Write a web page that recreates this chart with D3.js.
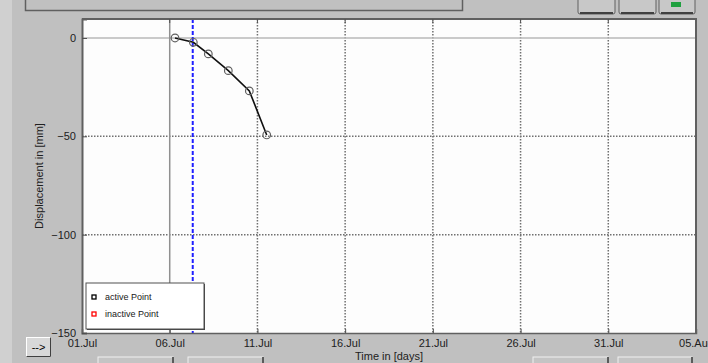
<!DOCTYPE html>
<html>
<head>
<meta charset="utf-8">
<script src="https://cdn.jsdelivr.net/npm/d3@7"></script>
<style>
  body { margin: 0; background: #c0c0c0; }
  svg { display: block; font-family: "Liberation Sans", Arial, sans-serif; }
</style>
</head>
<body>
<div id="chart"></div>
<script>
// measured points (time, displacement in mm)
const pointTimes = ["2005-07-06T07:15", "2005-07-07T08:18", "2005-07-08T04:50", "2005-07-09T08:11", "2005-07-10T12:55", "2005-07-11T12:43"];
const pointValues = [0, -2.2, -8.1, -16.6, -26.9, -49.3];
const xTicks = ["2005-07-01", "2005-07-06", "2005-07-11", "2005-07-16", "2005-07-21", "2005-07-26", "2005-07-31", "2005-08-05"];
const yTicks = [0, -50, -100, -150];
const startTime = "2005-07-06T00:00";   // solid gray reference line
const currentTime = "2005-07-07T07:30"; // blue dashed marker
const legendItems = ["active Point", "inactive Point"];
const legendColors = ["#000000", "#ff0000"];

const W = 708, H = 363;
const m = {left: 82, right: 12, top: 19, bottom: 30};
const parse = d3.isoParse;

const svg = d3.select("#chart").append("svg").attr("width", W).attr("height", H);

// window chrome
svg.append("rect").attr("width", W).attr("height", H).attr("fill", "#c0c0c0");
svg.append("rect").attr("x", 0).attr("y", 0).attr("width", 12).attr("height", H).attr("fill", "#d0d0d0");
svg.append("path").attr("d", "M25.5,0V10.5H462.5V0").attr("fill", "none").attr("stroke", "#606060").attr("stroke-width", 1.5);
[[578, 615], [619, 656], [659, 695]].forEach(function(b){
    svg.append("rect").attr("x", b[0]).attr("y", -3).attr("width", b[1] - b[0]).attr("height", 17)
        .attr("fill", "#c8c8c8").attr("stroke", "#606060").attr("rx", 2);
    svg.append("line").attr("x1", b[0] + 2).attr("x2", b[1] - 2).attr("y1", 13).attr("y2", 13)
        .attr("stroke", "#404040").attr("stroke-width", 2);
});
svg.append("rect").attr("x", 671).attr("y", 2).attr("width", 10).attr("height", 5).attr("fill", "#20a040");

// bottom buttons
[[98, 173], [188, 263], [533, 608], [618, 692]].forEach(function(b){
    svg.append("rect").attr("x", b[0]).attr("y", 357).attr("width", b[1] - b[0]).attr("height", 10)
        .attr("fill", "#c4c4c4").attr("stroke", "#f0f0f0");
    svg.append("line").attr("x1", b[1]).attr("x2", b[1]).attr("y1", 357).attr("y2", 363).attr("stroke", "#303030").attr("stroke-width", 1.5);
});
svg.append("rect").attr("x", 26.5).attr("y", 337.5).attr("width", 24).attr("height", 19)
    .attr("fill", "#d8d8d8").attr("stroke", "#ffffff");
svg.append("path").attr("d", "M50.5,337.5V356.5H26.5").attr("fill", "none").attr("stroke", "#404040");
svg.append("text").attr("x", 38.5).attr("y", 351).attr("text-anchor", "middle")
    .attr("font-size", 11).attr("fill", "#000").text("-->");

const x = d3.scaleTime()
    .domain([parse("2005-07-01"), parse("2005-08-05")])
    .range([m.left, W - m.right]);
const y = d3.scaleLinear()
    .domain([-150, 9.65])
    .range([H - m.bottom, m.top]);

// plot area
svg.append("rect").attr("x", m.left).attr("y", m.top)
    .attr("width", W - m.right - m.left).attr("height", H - m.bottom - m.top)
    .attr("fill", "#fdfdfd");

const grid = svg.append("g");
grid.selectAll(".vg").data(xTicks.slice(1, -1).filter(function(d){ return d !== "2005-07-06"; }))
  .enter().append("line")
    .attr("x1", function(d){ return x(parse(d)); }).attr("x2", function(d){ return x(parse(d)); })
    .attr("y1", m.top).attr("y2", H - m.bottom)
    .attr("stroke", "#707070").attr("stroke-width", 1.5).attr("stroke-dasharray", "1.5,1.5");
grid.selectAll(".hg").data(yTicks.filter(function(d){ return d < 0 && d > -150; }))
  .enter().append("line")
    .attr("x1", m.left).attr("x2", W - m.right)
    .attr("y1", function(d){ return y(d); }).attr("y2", function(d){ return y(d); })
    .attr("stroke", "#707070").attr("stroke-width", 1.5).attr("stroke-dasharray", "1.5,1.5");
grid.append("line").attr("x1", m.left).attr("x2", W - m.right)
    .attr("y1", y(0)).attr("y2", y(0)).attr("stroke", "#b8b8b8").attr("stroke-width", 1.5);
grid.append("line").attr("x1", x(parse(startTime))).attr("x2", x(parse(startTime)))
    .attr("y1", m.top).attr("y2", H - m.bottom).attr("stroke", "#909090").attr("stroke-width", 1.5);
grid.append("line").attr("x1", x(parse(currentTime))).attr("x2", x(parse(currentTime)))
    .attr("y1", m.top).attr("y2", H - m.bottom)
    .attr("stroke", "#2020ff").attr("stroke-width", 2).attr("stroke-dasharray", "4,2");

// axes
const fmt = d3.timeFormat("%d.%b");
const xAxis = svg.append("g").attr("transform", "translate(0," + (H - m.bottom) + ")")
    .call(d3.axisBottom(x).tickValues(xTicks.map(parse)).tickFormat(fmt).tickSize(-4).tickPadding(6));
xAxis.select(".domain").attr("stroke", "#606060").attr("stroke-width", 1.5);
xAxis.selectAll(".tick line").attr("stroke", "#505050");
xAxis.selectAll("text").attr("font-size", 11).attr("fill", "#202020").attr("font-family", "Liberation Sans, Arial");

const yAxis = svg.append("g").attr("transform", "translate(" + m.left + ",0)")
    .call(d3.axisLeft(y).tickValues(yTicks).tickSize(-5).tickPadding(6));
yAxis.select(".domain").attr("stroke", "#606060").attr("stroke-width", 2);
yAxis.selectAll(".tick line").attr("stroke", "#505050");
yAxis.selectAll("text").attr("font-size", 11).attr("fill", "#202020").attr("font-family", "Liberation Sans, Arial");

// top and right frame
svg.append("path")
    .attr("d", "M" + m.left + "," + m.top + "H" + (W - m.right) + "V" + (H - m.bottom))
    .attr("fill", "none").attr("stroke", "#606060").attr("stroke-width", 2);
svg.append("g").selectAll("line").data(xTicks.slice(1, -1)).enter().append("line")
    .attr("x1", function(d){ return x(parse(d)); }).attr("x2", function(d){ return x(parse(d)); })
    .attr("y1", m.top).attr("y2", m.top + 4).attr("stroke", "#505050");

// axis titles
svg.append("text").attr("x", (m.left + W - m.right) / 2).attr("y", H - 3)
    .attr("text-anchor", "middle").attr("font-size", 11).attr("fill", "#202020").text("Time in [days]");
svg.append("text").attr("transform", "translate(43," + (m.top + H - m.bottom) / 2 + ") rotate(-90)")
    .attr("text-anchor", "middle").attr("font-size", 11).attr("fill", "#202020").text("Displacement in [mm]");

// series
const pts = pointTimes.map(function(t, i){ return {t: parse(t), v: pointValues[i]}; });
svg.append("path").datum(pts)
    .attr("d", d3.line().x(function(d){ return x(d.t); }).y(function(d){ return y(d.v); }))
    .attr("fill", "none").attr("stroke", "#101010").attr("stroke-width", 1.6);
svg.selectAll(".pt").data(pts).enter().append("circle")
    .attr("cx", function(d){ return x(d.t); }).attr("cy", function(d){ return y(d.v); })
    .attr("r", 3.8).attr("fill", "none").attr("stroke", "#606060").attr("stroke-width", 1.2);

// legend
const lg = svg.append("g").attr("transform", "translate(86,283)");
lg.append("rect").attr("x", 1).attr("y", 1).attr("width", 118).attr("height", 46).attr("fill", "#404040");
lg.append("rect").attr("width", 118).attr("height", 46).attr("fill", "#ffffff").attr("stroke", "#505050");
legendItems.forEach(function(name, i){
    lg.append("rect").attr("x", 6).attr("y", 12 + i * 17).attr("width", 4).attr("height", 4)
        .attr("fill", "none").attr("stroke", legendColors[i]).attr("stroke-width", 1.3);
    lg.append("text").attr("x", 19).attr("y", 17 + i * 17).attr("font-size", 9)
        .attr("fill", "#202020").text(name);
});
</script>
</body>
</html>
